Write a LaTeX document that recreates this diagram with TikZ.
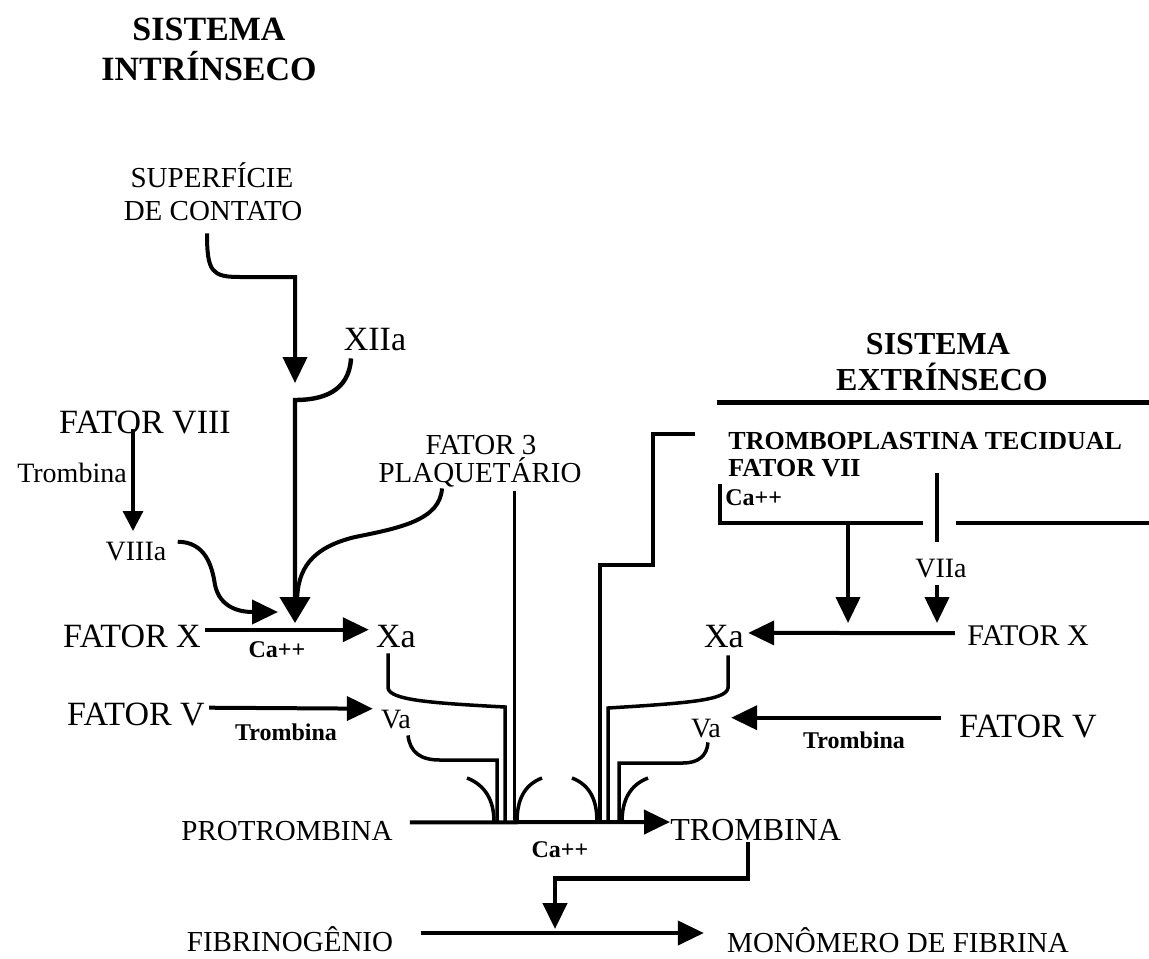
\documentclass[tikz,border=0pt]{standalone}
\usepackage{fontspec}
\setmainfont{Liberation Serif}
\usetikzlibrary{arrows.meta,calc}
\tikzstyle{tsTexto} = [
    inner sep=0pt,
    anchor=base,
    text depth=0pt
]
\tikzstyle{tsGrande} = [
    tsTexto,
    font=\fontsize{17}{19}\selectfont,
    text height=11.3pt
]
\tikzstyle{tsMedio} = [
    tsTexto,
    font=\fontsize{14.5}{17}\selectfont,
    text height=9.6pt
]
\tikzstyle{tsMenor} = [
    tsTexto,
    font=\fontsize{14}{16}\selectfont,
    text height=9.3pt
]
\tikzstyle{tsNegrito} = [
    tsTexto,
    font=\bfseries\fontsize{12}{14}\selectfont,
    text height=8.1pt
]
\tikzstyle{tsNegritoMedio} = [
    tsTexto,
    font=\bfseries\fontsize{13}{15}\selectfont,
    text height=8.6pt,
    anchor=base west
]
\tikzstyle{tsTitulo} = [
    tsTexto,
    font=\bfseries\fontsize{17}{19}\selectfont,
    text height=11.3pt
]
\tikzstyle{tsLinha} = [
    line width=1.75pt
]
\tikzstyle{tsSeta} = [
    line width=2pt,
    -{Triangle[length=13pt,width=12pt]}
]
\tikzstyle{tsSetaFina} = [
    line width=1.6pt,
    -{Triangle[length=10pt,width=10pt]}
]
\tikzstyle{tsSetaGrande} = [
    line width=2.2pt,
    -{Triangle[length=13pt,width=15pt]}
]
\begin{document}
\begin{tikzpicture}[x=0.5pt, y=-0.5pt]

        \useasboundingbox (0,0) rectangle (1149,958);

        % Titulos
        \node[tsTitulo] (intrA) at (209,40) {SISTEMA};
        \node[tsTitulo] (intrB) at (209,80) {INTRÍNSECO};
        \node[tsTitulo, font=\bfseries\fontsize{16}{18}\selectfont] (extrA) at (938,354) {SISTEMA};
        \node[tsTitulo, font=\bfseries\fontsize{16}{18}\selectfont] (extrB) at (942,390) {EXTRÍNSECO};
        \draw[line width=2.5pt] (717,402) -- (1149,402);

        % Sistema intrinseco
        \node[tsMedio] (superficieA) at (212,187) {SUPERFÍCIE};
        \node[tsMedio] (superficieB) at (213,220) {DE CONTATO};
        \node[tsGrande] (xiia) at (375,350) {XIIa};
        \node[tsGrande] (fatorVIII) at (145,433) {FATOR VIII};
        \node[tsMenor] (trombinaVIII) at (72,482) {Trombina};
        \node[tsMenor] (viiia) at (136,560) {VIIIa};
        \node[tsMedio] (fator3A) at (481,454) {FATOR 3};
        \node[tsMedio] (fator3B) at (480,482) {PLAQUETÁRIO};
        \node[tsGrande] (fatorXesq) at (132,647) {FATOR X};
        \node[tsNegrito] (caEsq) at (277,657) {Ca++};
        \node[tsGrande] (xaEsq) at (396,647) {Xa};
        \node[tsGrande] (fatorVesq) at (136,725) {FATOR V};
        \node[tsNegrito] (trombinaEsq) at (286,740) {Trombina};
        \node[tsMenor] (vaEsq) at (396,728) {Va};

        % Sistema extrinseco
        \node[tsNegritoMedio] (tromboplastina) at (728,449) {TROMBOPLASTINA TECIDUAL};
        \node[tsNegritoMedio] (fatorVII) at (728,476) {FATOR VII};
        \node[tsNegrito, anchor=base west] (caDir) at (725,505) {Ca++};
        \node[tsMenor] (viia) at (941,577) {VIIa};
        \node[tsGrande] (xaDir) at (724,647) {Xa};
        \node[tsGrande, font=\fontsize{15}{17}\selectfont, text height=9.9pt] (fatorXdir) at (1028,645) {FATOR X};
        \node[tsGrande] (fatorVdir) at (1028,737) {FATOR V};
        \node[tsMenor] (vaDir) at (706,737) {Va};
        \node[tsNegrito] (trombinaDir) at (854,748) {Trombina};

        % Via comum
        \node[tsMedio] (protrombina) at (287,840) {PROTROMBINA};
        \node[tsNegrito] (caComum) at (560,857) {Ca++};
        \node[tsMedio, font=\fontsize{16}{18}\selectfont, text height=10.6pt, anchor=base west] (trombina) at (670,840) {TROMBINA};
        \node[tsMedio] (fibrinogenio) at (290,951) {FIBRINOGÊNIO};
        \node[tsMedio] (monomero) at (898,952) {MONÔMERO DE FIBRINA};

        % Pontos de chegada
        \coordinate (ativaXesq) at (295,623);
        \coordinate (ativaXdirA) at (848,623);
        \coordinate (ativaXdirB) at (937,623);
        \coordinate (baseVaEsq) at (497,822);
        \coordinate (baseXaEsq) at (505,822);
        \coordinate (basePlaq) at (514,822);
        \coordinate (basePasso) at (600,822);
        \coordinate (baseXaDir) at (608,822);
        \coordinate (baseVaDir) at (619,822);
        \coordinate (ativaFibrina) at (555,929);

        % Cascata intrinseca
        \draw[tsSeta] ([xshift=-3pt,yshift=-6.5pt]superficieB.south)
            .. controls (207,272) and (212,277) .. (240,277) -- (295,277) -- (295,383);
        \draw[tsSetaGrande] ([xshift=-12pt,yshift=-4pt]xiia.south)
            .. controls (349,392) and (322,400) .. (295,400) -- (ativaXesq);
        \draw[tsSetaFina] ([xshift=-6pt,yshift=2pt]fatorVIII.south) -- ([xshift=-1.5pt,yshift=5pt]viiia.north);
        \draw[tsSeta] ([xshift=5.5pt,yshift=4.5pt]viiia.east)
            .. controls (205,542) and (212,565) .. (215,585)
            .. controls (220,608) and (240,612) .. (278,612);
        \draw[tsLinha, line width=2pt] ([xshift=-19pt,yshift=-3pt]fator3B.south)
            .. controls (440,520) and (400,528) .. (355,537)
            .. controls (310,548) and (298,570) .. (297,600);
        \draw[tsSeta] ([xshift=2pt,yshift=3pt]fatorXesq.east) -- ([xshift=-3.5pt,yshift=3pt]xaEsq.west);
        \draw[tsSeta] ([xshift=2pt,yshift=3pt]fatorVesq.east) -- ([xshift=-4pt,yshift=5pt]vaEsq.west);

        % Cascata extrinseca
        \draw[tsLinha, line width=2pt] ([xshift=-16.5pt,yshift=3pt]tromboplastina.west) -| (653,565) -| (basePasso);
        \draw[tsLinha, line width=2pt] (720,484) |- (923,523);
        \draw[tsLinha, line width=2pt] (956,523) -- (1149,523);
        \draw[tsLinha, line width=2pt] (937,473) -- ([xshift=-2pt,yshift=8pt]viia.north);
        \draw[tsSeta] (848,523) -- (ativaXdirA);
        \draw[tsSeta] ([xshift=-2pt,yshift=-4pt]viia.south) -- (ativaXdirB);
        \draw[tsSeta] ([xshift=-6pt,yshift=1pt]fatorXdir.west) -- ([xshift=2pt,yshift=1.4pt]xaDir.east);
        \draw[tsSeta] ([xshift=-9pt,yshift=4pt]fatorVdir.west) -- ([xshift=5pt,yshift=5pt]vaDir.east);

        % Complexos ligados a protrombina
        \draw[tsLinha] ([xshift=-4pt,yshift=-3pt]xaEsq.south) -- (388,688)
            .. controls (390,700) and (430,703) .. (505,707) -- (baseXaEsq);
        \draw[tsLinha] ([xshift=6pt,yshift=-3.5pt]vaEsq.south)
            .. controls (410,752) and (420,760) .. (440,760) -- (497,760) -- (baseVaEsq);
        \draw[tsLinha, line width=1.5pt] ([xshift=17pt,yshift=-4.5pt]fator3B.south) -- (basePlaq);
        \draw[tsLinha] ([xshift=2pt,yshift=-4pt]xaDir.south) -- (728,688)
            .. controls (726,700) and (690,703) .. (608,708) -- (baseXaDir);
        \draw[tsLinha] ([xshift=1pt,yshift=-2.5pt]vaDir.south)
            .. controls (707,756) and (698,763) .. (683,763) -- (619,763) -- (baseVaDir);
        \draw[tsLinha] (467,778) .. controls (485,785) and (494,800) .. (494,822);
        \draw[tsLinha] (542,778) .. controls (524,785) and (517,800) .. (517,822);
        \draw[tsLinha] (572,778) .. controls (590,785) and (597,800) .. (597,822);
        \draw[tsLinha] (648,778) .. controls (630,785) and (622,800) .. (622,822);

        % Via comum
        \draw[tsSeta] ([xshift=8.5pt,yshift=4pt]protrombina.east) -- ([yshift=3.7pt]trombina.west);
        \draw[tsSeta, line width=2.2pt] ([xshift=-4pt,yshift=-1pt]trombina.south) -- ++(0,36) -| (ativaFibrina);
        \draw[tsSeta] ([xshift=13.5pt,yshift=4.2pt]fibrinogenio.east) -- ([xshift=-11.5pt,yshift=4.7pt]monomero.west);

\end{tikzpicture}
\end{document}
